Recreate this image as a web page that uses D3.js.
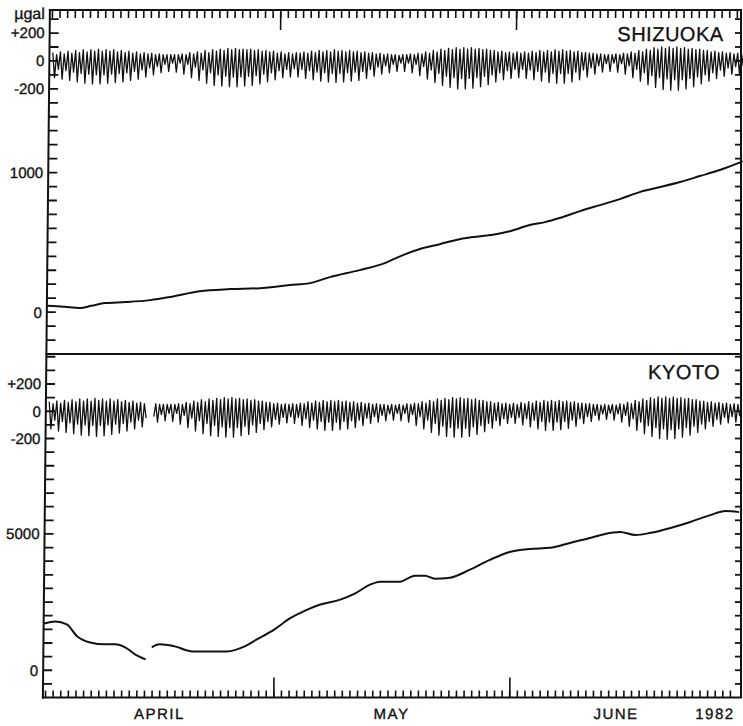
<!DOCTYPE html>
<html>
<head>
<meta charset="utf-8">
<script src="https://cdn.jsdelivr.net/npm/d3@7"></script>
<style>
body { margin: 0; background: #fff; }
svg text { font-family: "Liberation Sans", Arial, sans-serif; fill: #111; stroke: #111; stroke-width: 0.35px; }
</style>
</head>
<body>
<div id="chart"></div>
<script>
// time axis: days counted from 1982-04-01 00:00
const monthStarts = [30, 61]
const monthNames = ['APRIL', 'MAY', 'JUNE', '1982']
const monthLabelDays = [15, 45.5, 75, 88]

// left axis labels
const shizTideTicks = [200, 0, -200]
const shizDriftTicks = [1000, 0]
const kyotoTideTicks = [200, 0, -200]
const kyotoDriftTicks = [5000, 0]
const tideTickNames = ['+200', '0', '-200']

// slow drift of the gravimeters (day, value)
const shizDrift = [
  [-0.3, 45], [0.5, 44], [2, 38], [4, 30], [5.5, 45], [7.3, 65], [10, 72], [13.2, 86], [15.8, 108],
  [19.7, 150], [23.7, 165], [27.6, 172], [31.6, 194], [34.2, 208], [36.8, 251], [40.7, 301],
  [44, 351], [46, 400], [48.6, 452], [51.2, 487], [53.8, 523], [57.8, 552], [60.4, 580],
  [63, 624], [65, 645], [66.9, 674], [69.6, 724], [72.2, 767], [74.8, 810], [77.4, 860],
  [80.1, 896], [82.7, 932], [85.3, 975], [87.9, 1018], [90.9, 1080]
]
const kyotoDrift = [
  [-0.3, 1715], [1.2, 1790], [2.7, 1680], [4.1, 1240], [5.8, 1020], [7.7, 950], [9.1, 950],
  [10.4, 840], [11.7, 585], [13.1, 400], [13.5, null],
  [13.9, 840], [14.9, 950], [16.9, 875], [19.3, 690], [21.5, 690], [23.8, 690], [26.1, 875],
  [27.7, 1130], [30, 1500], [32, 1900], [34, 2190], [36, 2410], [38.6, 2590], [40.5, 2810],
  [42.5, 3140], [43.8, 3250], [46.4, 3250], [48.4, 3470], [49.7, 3470], [51, 3360], [53, 3395],
  [55.6, 3690], [58.2, 4050], [60.8, 4340], [63.4, 4450], [66.1, 4490], [68.7, 4670],
  [71.3, 4850], [73.3, 5000], [75.3, 5070], [77.3, 4960], [79.3, 5040], [81.9, 5220],
  [84.5, 5440], [87.1, 5690], [89.1, 5840], [90.9, 5800]
]

// earth tide, one row per day: high, low, high, low (µgal)
const tidePhase = [0.1, 0.35, 0.6, 0.85]
const shizTide = [
  [60,-120,45,-60],[65,-130,50,-70],[70,-140,55,-80],[75,-150,60,-90],[80,-160,65,-95],
  [80,-165,70,-100],[85,-165,70,-100],[80,-160,70,-95],[80,-155,65,-90],[75,-150,60,-85],
  [70,-140,55,-75],[65,-130,50,-65],[60,-115,50,-50],[55,-100,45,-40],[50,-85,45,-25],
  [45,-75,45,-15],[45,-80,45,-15],[50,-95,45,-25],[60,-120,50,-45],[65,-140,55,-65],
  [75,-160,60,-85],[80,-175,70,-100],[85,-180,75,-110],[90,-185,80,-115],[90,-185,80,-115],
  [85,-180,80,-110],[85,-175,75,-105],[80,-165,70,-95],[75,-150,65,-85],[70,-135,55,-70],
  [65,-120,50,-60],[60,-115,50,-55],[60,-115,55,-60],[65,-125,55,-70],[70,-135,60,-80],
  [75,-145,65,-85],[75,-150,65,-90],[80,-155,70,-90],[75,-150,65,-85],[75,-145,65,-80],
  [70,-140,60,-75],[65,-125,55,-60],[60,-110,50,-45],[55,-95,45,-35],[50,-85,45,-25],
  [45,-75,40,-15],[45,-75,45,-15],[50,-85,45,-25],[55,-105,50,-40],[65,-130,55,-65],
  [75,-155,65,-90],[85,-175,75,-110],[90,-190,80,-120],[95,-200,85,-125],[95,-200,85,-125],
  [95,-195,85,-120],[90,-185,80,-110],[85,-170,75,-100],[75,-150,65,-85],[70,-135,60,-70],
  [65,-125,55,-60],[65,-120,55,-60],[65,-125,55,-65],[70,-135,60,-75],[75,-145,65,-80],
  [75,-155,65,-90],[80,-160,70,-90],[80,-160,70,-90],[75,-150,65,-80],[70,-135,60,-65],
  [60,-115,55,-50],[55,-95,50,-35],[50,-80,45,-20],[45,-75,45,-15],[50,-80,45,-20],
  [55,-95,50,-35],[65,-120,55,-60],[75,-145,65,-85],[85,-170,75,-105],[95,-190,85,-120],
  [100,-205,90,-130],[100,-210,90,-135],[100,-210,90,-135],[95,-200,85,-125],[90,-185,80,-115],
  [85,-165,75,-100],[75,-145,65,-85],[70,-125,60,-65],[65,-110,55,-50],[60,-95,50,-40],
  [55,-90,50,-35]
]
const kyotoTide = [
  [70,-130,55,-65],[75,-145,60,-75],[80,-155,65,-85],[85,-165,70,-95],[90,-175,75,-100],
  [90,-180,75,-105],[95,-185,80,-105],[90,-180,75,-100],[90,-170,75,-95],[85,-160,70,-90],
  [80,-145,65,-80],[75,-130,60,-65],[65,-115,55,-50],[60,-100,50,-40],[55,-80,50,-25],
  [50,-70,50,-15],[50,-75,50,-15],[55,-95,50,-30],[65,-120,55,-50],[75,-145,65,-70],
  [85,-165,70,-90],[90,-180,80,-105],[95,-185,85,-115],[100,-190,90,-120],[100,-190,90,-120],
  [95,-180,85,-110],[90,-170,80,-100],[85,-155,75,-90],[75,-135,65,-75],[65,-115,55,-60],
  [60,-95,50,-45],[55,-85,50,-40],[55,-90,50,-45],[60,-105,55,-55],[70,-120,60,-65],
  [75,-130,65,-75],[80,-140,70,-80],[80,-140,70,-80],[80,-135,70,-75],[75,-130,65,-70],
  [70,-120,60,-65],[65,-105,55,-50],[60,-90,50,-40],[55,-80,50,-30],[50,-70,45,-20],
  [50,-65,45,-15],[50,-70,45,-15],[55,-80,50,-25],[60,-105,55,-40],[70,-130,60,-65],
  [80,-155,70,-90],[90,-175,80,-110],[95,-185,85,-120],[100,-190,90,-125],[100,-190,90,-125],
  [95,-185,85,-115],[90,-170,80,-105],[80,-150,70,-90],[70,-125,60,-70],[65,-105,55,-55],
  [60,-90,50,-45],[60,-90,50,-45],[65,-100,55,-55],[70,-115,60,-65],[75,-130,65,-75],
  [80,-140,70,-80],[80,-140,70,-80],[80,-135,70,-75],[75,-125,65,-65],[70,-110,60,-55],
  [60,-90,55,-40],[55,-75,50,-30],[50,-65,45,-20],[50,-60,45,-15],[50,-65,45,-20],
  [55,-80,50,-30],[65,-110,55,-55],[80,-140,70,-80],[90,-165,80,-105],[100,-185,90,-120],
  [105,-200,95,-130],[105,-205,95,-135],[105,-200,95,-130],[100,-190,90,-120],[95,-175,85,-110],
  [85,-155,75,-95],[75,-130,65,-75],[70,-110,60,-60],[65,-95,55,-45],[60,-85,50,-40],
  [55,-80,50,-35]
]
const kyotoGap = [13.05, 13.7]

class GravityChart {

    constructor(){
        this.width = 743
        this.height = 726
        this.shear = 0.0102          // the scanned figure leans a little
        this.left = 50
        this.right = 741
        this.top = 10
        this.mid = 354
        this.bottom = 697.5

        this.x = d3.scaleLinear().domain([0, 91]).range([52.6, 52.6 + 91 * 7.61])
        this.yTop = d3.scaleLinear().domain([-300, 2165]).range([this.mid, this.top])
        this.yBot = d3.scaleLinear().domain([-1000, 11600]).range([this.bottom, this.mid])

        // tide panels share the tick grid of the drift scale
        this.shizTideY = t => this.yTop(1800 + t)
        this.kyotoTideY = t => this.yBot(9500 + 5 * t)
    }

    init(){
        this.svg = d3.select('#chart').append('svg')
            .attr('width', this.width)
            .attr('height', this.height)
        this.svg.append('rect').attr('width', this.width).attr('height', this.height).attr('fill', '#fff')

        const ang = Math.atan(-this.shear) * 180 / Math.PI
        this.g = this.svg.append('g').attr('transform', `skewX(${ang})`)
        this.flat = this.svg.append('g')
    }

    frame(){
        const g = this.g
        const s = this.shear
        const lines = [
            [this.left, this.top, this.right + s * this.top, this.top],
            [this.left, this.mid, this.right + s * this.mid, this.mid],
            [this.left, this.bottom, this.right + s * this.bottom, this.bottom],
            [this.left, this.top, this.left, this.bottom]
        ]
        lines.forEach(l => {
            g.append('line').attr('x1', l[0]).attr('y1', l[1]).attr('x2', l[2]).attr('y2', l[3])
                .attr('stroke', '#111').attr('stroke-width', 2).attr('stroke-linecap', 'square')
        })
        this.flat.append('line')
            .attr('x1', this.right).attr('y1', this.top).attr('x2', this.right).attr('y2', this.bottom)
            .attr('stroke', '#111').attr('stroke-width', 2)
    }

    // tick marks drawn straight from the scales
    vTicks(parent, y, values, x0, len){
        parent.append('g').selectAll('line').data(values).join('line')
            .attr('x1', x0).attr('x2', x0 + len)
            .attr('y1', d => y(d)).attr('y2', d => y(d))
            .attr('stroke', '#111').attr('stroke-width', 1.8)
    }

    hTicks(parent, values, y0, len){
        parent.append('g').selectAll('line').data(values).join('line')
            .attr('x1', d => this.x(d)).attr('x2', d => this.x(d))
            .attr('y1', y0).attr('y2', y0 + len)
            .attr('stroke', '#111').attr('stroke-width', 1.6)
    }

    axes(){
        const g = this.g
        const days = d3.range(0, 91)
        const topTicks = d3.range(-200, 2101, 100)
        const botTicks = d3.range(-500, 11501, 500)

        // left ticks point inward, right ticks too
        this.vTicks(g, this.yTop, topTicks, this.left, 9)
        this.vTicks(g, this.yBot, botTicks, this.left, 9)
        this.vTicks(this.flat, this.yTop, topTicks, this.right, -6)
        this.vTicks(this.flat, this.yBot, botTicks, this.right, -6)

        // one tick per day, month starts longer
        this.hTicks(g, days, this.top, 8)
        this.hTicks(g, monthStarts, this.top, 20)
        this.hTicks(g, days, this.bottom, -7)
        this.hTicks(g, monthStarts, this.bottom, -20)
    }

    labels(){
        const g = this.g
        const lx = 45
        const addLeft = (y, txt) => {
            g.append('text').attr('x', lx).attr('y', y).attr('dy', '0.36em')
                .attr('text-anchor', 'end').style('font-size', '15px').text(txt)
        }
        shizTideTicks.forEach((t, i) => addLeft(this.shizTideY(t), tideTickNames[i]))
        shizDriftTicks.forEach(t => addLeft(this.yTop(t), String(t)))
        kyotoTideTicks.forEach((t, i) => addLeft(this.kyotoTideY(t), tideTickNames[i]))
        kyotoDriftTicks.forEach(t => addLeft(this.yBot(t), String(t)))

        g.append('text').attr('x', lx).attr('y', 19).attr('text-anchor', 'end')
            .style('font-size', '16px').text('µgal')

        g.append('text').attr('x', 724).attr('y', 41.5).attr('text-anchor', 'end')
            .style('font-size', '20px').style('letter-spacing', '0.5px').text('SHIZUOKA')
        g.append('text').attr('x', 724).attr('y', 379.5).attr('text-anchor', 'end')
            .style('font-size', '20px').style('letter-spacing', '0.5px').text('KYOTO')

        monthNames.forEach((m, i) => {
            g.append('text').attr('x', this.x(monthLabelDays[i])).attr('y', 719)
                .attr('text-anchor', 'middle').style('font-size', '15px')
                .style('letter-spacing', '1.5px').text(m)
        })
    }

    tidePoints(rows){
        const pts = []
        rows.forEach((r, day) => r.forEach((v, j) => pts.push([day + tidePhase[j], v])))
        return pts
    }

    drawSeries(){
        const g = this.g
        const x = this.x

        const shizLine = d3.line()
            .x(d => x(d[0])).y(d => this.shizTideY(d[1]))
        g.append('path').datum(this.tidePoints(shizTide))
            .attr('fill', 'none').attr('stroke', '#111').attr('stroke-width', 1.3)
            .attr('stroke-linejoin', 'round').attr('d', shizLine)

        const kyotoLine = d3.line()
            .defined(d => d[0] < kyotoGap[0] || d[0] > kyotoGap[1])
            .x(d => x(d[0])).y(d => this.kyotoTideY(d[1]))
        g.append('path').datum(this.tidePoints(kyotoTide))
            .attr('fill', 'none').attr('stroke', '#111').attr('stroke-width', 1.3)
            .attr('stroke-linejoin', 'round').attr('d', kyotoLine)

        const drift = y => d3.line()
            .defined(d => d[1] != null)
            .x(d => x(d[0])).y(d => y(d[1]))
            .curve(d3.curveMonotoneX)

        g.append('path').datum(shizDrift)
            .attr('fill', 'none').attr('stroke', '#111').attr('stroke-width', 2)
            .attr('d', drift(this.yTop))
        g.append('path').datum(kyotoDrift)
            .attr('fill', 'none').attr('stroke', '#111').attr('stroke-width', 2)
            .attr('d', drift(this.yBot))
    }
}

const chart = new GravityChart()
chart.init()
chart.frame()
chart.labels()
chart.drawSeries()
chart.axes()
</script>
</body>
</html>
